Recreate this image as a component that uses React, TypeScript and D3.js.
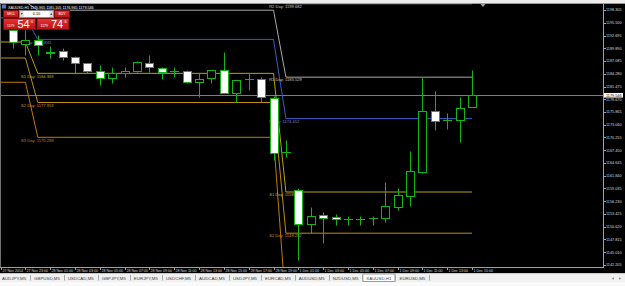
import React from 'react';
import * as d3 from 'd3';

const W = 625;
const H = 286;

// ---- Candle data (H1 bars, index 0 = 27 Nov 22:00) ----
const opens = [
  1193.905, 1190.825, 1191.705, 1188.955, 1189.285, 1187.965, 1186.645, 1184.885, 1183.345, 1184.445,
  1184.885, 1186.645, 1185.545, 1184.885, 1184.885, 1182.465, 1183.345, 1185.105, 1180.045, 1183.015,
  1183.125, 1178.945, 1167.065, 1158.705, 1151.225, 1153.205, 1152.765, 1152.325, 1152.325, 1152.545,
  1152.545, 1154.965, 1157.385, 1162.665, 1176.085, 1174.105, 1174.105, 1176.965,
];
const highs = [
  1194.345, 1193.905, 1192.805, 1190.385, 1189.945, 1188.185, 1186.710, 1186.205, 1185.765, 1185.765,
  1187.085, 1188.405, 1185.765, 1185.765, 1185.105, 1184.445, 1185.105, 1189.065, 1182.905, 1184.445,
  1183.565, 1179.385, 1169.705, 1159.145, 1154.965, 1153.865, 1153.425, 1152.985, 1152.985, 1152.985,
  1160.465, 1159.145, 1167.285, 1183.565, 1180.485, 1175.645, 1179.165, 1185.105,
];
const lows = [
  1189.945, 1188.405, 1188.405, 1187.745, 1187.305, 1184.445, 1184.445, 1181.805, 1182.245, 1183.565,
  1184.665, 1184.665, 1183.125, 1183.565, 1182.245, 1179.165, 1182.245, 1180.045, 1178.065, 1180.705,
  1178.065, 1165.305, 1165.965, 1143.305, 1149.245, 1147.045, 1151.005, 1151.005, 1151.005, 1151.005,
  1151.665, 1154.305, 1155.185, 1162.445, 1171.905, 1172.125, 1169.265, 1176.965,
];
const closes = [
  1191.265, 1191.705, 1190.605, 1189.175, 1187.965, 1186.645, 1184.885, 1183.345, 1184.445, 1184.995,
  1186.865, 1185.765, 1184.665, 1184.885, 1182.465, 1183.125, 1185.105, 1180.045, 1182.905, 1183.125,
  1179.165, 1166.845, 1167.065, 1151.225, 1152.985, 1152.545, 1152.325, 1152.325, 1152.325, 1152.545,
  1155.185, 1157.605, 1162.885, 1176.085, 1173.885, 1174.105, 1176.745, 1179.546,
];

// ---- Time axis ----
const timeLabelIdx = [-1, 1, 3, 5, 7, 9, 11, 13, 15, 17, 19, 21, 23, 25, 27, 29, 31, 33, 35, 37];
const timeLabels = [
  '27 Nov 2014', '27 Nov 23:00', '28 Nov 01:00', '28 Nov 03:00', '28 Nov 05:00', '28 Nov 07:00',
  '28 Nov 09:00', '28 Nov 11:00', '28 Nov 13:00', '28 Nov 15:00', '28 Nov 17:00', '28 Nov 19:00',
  '1 Dec 01:00', '1 Dec 03:00', '1 Dec 05:00', '1 Dec 07:00', '1 Dec 09:00', '1 Dec 11:00',
  '1 Dec 13:00', '1 Dec 15:00',
];

// ---- Price axis ----
const priceTicks = [
  1198.305, 1195.5, 1192.695, 1189.89, 1187.085, 1184.28, 1181.475, 1178.67, 1175.865, 1173.06,
  1170.255, 1167.45, 1164.645, 1161.84, 1159.035, 1156.23, 1153.425, 1150.62, 1147.815, 1145.01,
  1142.205,
];
const currentPrice = 1179.546;
const askPrice = 1179.746;

// ---- Daily pivots ----
const dayStart = [-3, 2, 22];
const dayEnd = [1, 21, 37];
const pivotNames = ['R2', 'R1', 'P', 'S1', 'S2', 'S3'];
const pivotR2 = [1205.455, 1205.729, 1199.682];
const pivotR1 = [1200.12, 1198.257, 1183.529];
const pivotP = [1196.6, 1191.841, 1174.412];
const pivotS1 = [1191.265, 1184.369, 1158.262];
const pivotS2 = [1187.745, 1177.953, 1149.202];
const pivotS3 = [1182.41, 1170.299, 1132.99];
const pivotColors = ['#a8a8a8', '#a8a8a8', '#3a5cc8', '#b4a214', '#c08c14', '#c0780c'];
const pivotTextColors = ['#c8c8c8', '#c8c8c8', '#6a88e0', '#c8b420', '#c89a20', '#c8841a'];

// ---- Tabs ----
const tabNames = [
  'AUDJPY,M5', 'GBPUSD,M5', 'USDCAD,M5', 'GBPJPY,M5', 'EURJPY,M5', 'USDCHF,M5', 'AUDCAD,M5',
  'USDJPY,M5', 'EURCAD,M5', 'AUDUSD,M5', 'NZDUSD,M5', 'XAUUSD,H1', 'EURUSD,M5',
];
const activeTab = 'XAUUSD,H1';
const symbolTitle = 'XAUUSD,H1';

const FONT = '"Liberation Sans", Arial, sans-serif';

function measure(text: string, size: number) {
  const c = document.createElement('canvas').getContext('2d');
  if (!c) return text.length * size * 0.55;
  c.font = `${size}px ${FONT}`;
  return c.measureText(text).width;
}

export default function App() {
  const x = d3.scaleLinear().domain([0, 37]).range([13, 472]);
  const y = d3.scaleLinear().domain([1142.205, 1198.305]).range([265, 10]);
  const green = '#14b414';
  const chartL = 1, chartR = 603, chartT = 3, chartB = 267;
  // one-click trading panel occupies this corner and hides what is under it
  const panel = { x0: 3, x1: 70, y0: 10, y1: 30 };

  const pivotSets = [pivotR2, pivotR1, pivotP, pivotS1, pivotS2, pivotS3];
  const line = d3.line<[number, number]>().x(d => d[0]).y(d => d[1]);

  const pivotPaths = pivotSets.map(vals => {
    const pts: [number, number][] = [];
    vals.forEach((v, d) => {
      pts.push([x(dayStart[d]), y(v)]);
      pts.push([x(dayEnd[d]), y(v)]);
    });
    return line(pts) || '';
  });

  const pivotLabels: { key: string; lx: number; ly: number; color: string; text: string }[] = [];
  pivotSets.forEach((vals, li) =>
    vals.forEach((v, d) => {
      const lx = x(dayStart[d] - 1.35);
      const ly = y(v) + 4.3;
      const underPanel = lx < panel.x1 && ly > panel.y0 && ly - 3.5 < panel.y1;
      if (lx >= chartL && ly - 3.5 >= chartT && ly <= chartB && !underPanel) {
        pivotLabels.push({
          key: `${li}-${d}`,
          lx,
          ly,
          color: pivotTextColors[li],
          text: `${pivotNames[li]} Day: ${v.toFixed(3)}`,
        });
      }
    })
  );

  // tab layout
  const tabFont = 4.4;
  let tx = 2;
  const tabs = tabNames.map(name => {
    const w = measure(name, tabFont);
    const t = { name, x: tx, w };
    tx += w + 8;
    return t;
  });

  const last = opens.length - 1;
  const titleText = `${symbolTitle}  ${opens[last].toFixed(3)} ${highs[last].toFixed(3)} ${lows[last].toFixed(3)} ${closes[last].toFixed(3)}`;

  const priceBox = (bx: number, price: number) => {
    const s = price.toFixed(3);
    const big = s.slice(5, 7);
    const small = s.slice(0, 4);
    const sup = s.slice(7, 8);
    return (
      <g>
        <rect x={bx + 0.5} y={18.5} width={32} height={11} fill="url(#redg)" stroke="#7a0c0c" />
        <text x={bx + 4} y={27} fontSize={3.4} fill="#fff" fontFamily={FONT}>{small}</text>
        <text x={bx + 14.5} y={28} fontSize={11} fill="#fff" fontFamily={FONT}>{big}</text>
        <text x={bx + 28} y={22.5} fontSize={3.8} fill="#fff" fontFamily={FONT}>{sup}</text>
      </g>
    );
  };

  return (
    <svg width={W} height={H} style={{ position: 'fixed', left: 0, top: 0 }} xmlns="http://www.w3.org/2000/svg">
      <defs>
        <clipPath id="plot">
          <rect x={chartL} y={chartT} width={chartR - chartL} height={chartB - chartT} />
        </clipPath>
        <linearGradient id="redg" x1="0" y1="0" x2="0" y2="1">
          <stop offset="0" stopColor="#e43434" />
          <stop offset="1" stopColor="#b81212" />
        </linearGradient>
      </defs>
      {/* window chrome */}
      <rect x={0} y={0} width={W} height={H} fill="#000" />
      <rect x={0} y={0} width={W} height={3} fill="#ececec" />
      <line x1={0} x2={W} y1={3.5} y2={3.5} stroke="#9a9a9a" />
      <line x1={0.5} x2={0.5} y1={3} y2={chartB} stroke="#707070" />

      <g clipPath="url(#plot)">
        {/* current price line */}
        <line x1={chartL} x2={chartR} y1={Math.round(y(currentPrice)) + 0.5} y2={Math.round(y(currentPrice)) + 0.5} stroke="#7c7c7c" />
        {/* pivot lines */}
        {pivotPaths.map((p, i) => (
          <path key={i} d={p} fill="none" stroke={pivotColors[i]} strokeWidth={1} />
        ))}
        {/* pivot labels */}
        {pivotLabels.map(l => (
          <text key={l.key} x={l.lx} y={l.ly} fontSize={4.1} fill={l.color} fontFamily={FONT}>{l.text}</text>
        ))}
        {/* candles */}
        {opens.map((o, i) => {
          const c = closes[i];
          const cx = Math.round(x(i)) + 0.5;
          const hi = Math.round(y(highs[i])) + 0.5;
          const lo = Math.round(y(lows[i])) + 0.5;
          const top = Math.round(y(Math.max(o, c))) + 0.5;
          const bot = Math.round(y(Math.min(o, c))) + 0.5;
          const bull = c > o;
          const doji = bot - top < 1;
          return (
            <g key={i}>
              <line x1={cx} x2={cx} y1={hi} y2={lo} stroke={green} />
              {doji ? (
                <line x1={cx - 4.5} x2={cx + 4.5} y1={top} y2={top} stroke={green} />
              ) : (
                <rect x={cx - 4} y={top} width={8} height={bot - top} fill={bull ? '#000' : '#fff'} stroke={green} />
              )}
            </g>
          );
        })}
        {/* chart shift marker */}
        <path d="M480.5,4 L485.5,4 L483,7 Z" fill="#a0a0a0" />
      </g>

      {/* title */}
      <rect x={2} y={4.5} width={4} height={4} fill="#4a78c8" />
      <text x={8} y={8.6} fontSize={3.7} fill="#fff" fontFamily={FONT}>{titleText}</text>

      {/* one click trading panel */}
      <rect x={3.5} y={10.5} width={15} height={7} fill="url(#redg)" stroke="#7a0c0c" />
      <text x={11} y={15.3} fontSize={3.5} fill="#fff" textAnchor="middle" fontFamily={FONT}>SELL</text>
      <rect x={19.5} y={10.5} width={34} height={7} fill="#fff" stroke="#888" />
      <rect x={20} y={11} width={3.5} height={6} fill="#d8d8d8" />
      <rect x={49.5} y={11} width={3.5} height={6} fill="#d8d8d8" />
      <path d="M20.6,13.3 L22.9,13.3 L21.75,14.8 Z" fill="#222" />
      <path d="M50.1,14.8 L52.4,14.8 L51.25,13.3 Z" fill="#222" />
      <text x={36.5} y={15.4} fontSize={3.8} fill="#000" textAnchor="middle" fontFamily={FONT}>0.10</text>
      <rect x={54.5} y={10.5} width={15} height={7} fill="url(#redg)" stroke="#7a0c0c" />
      <text x={62} y={15.3} fontSize={3.5} fill="#fff" textAnchor="middle" fontFamily={FONT}>BUY</text>
      {priceBox(3, currentPrice)}
      {priceBox(36.5, askPrice)}

      {/* right price axis */}
      <line x1={chartR + 0.5} x2={chartR + 0.5} y1={3} y2={chartB + 1} stroke="#a0a0a0" />
      {priceTicks.map((p, i) => (
        <g key={i}>
          <line x1={chartR} x2={chartR + 3} y1={Math.round(y(p)) + 0.5} y2={Math.round(y(p)) + 0.5} stroke="#a0a0a0" />
          <text x={606} y={y(p) + 1.4} fontSize={3.8} fill="#d8d8d8" fontFamily={FONT}>{p.toFixed(3)}</text>
        </g>
      ))}
      <rect x={604} y={y(currentPrice) - 2.3} width={19} height={4.6} fill="#fff" />
      <text x={606} y={y(currentPrice) + 1.4} fontSize={3.8} fill="#000" fontFamily={FONT}>{currentPrice.toFixed(3)}</text>

      {/* bottom time axis */}
      <line x1={0} x2={chartR + 1} y1={chartB + 0.5} y2={chartB + 0.5} stroke="#a0a0a0" />
      {timeLabelIdx.map((ix, i) => {
        const px = Math.max(1.5, Math.round(x(ix)) + 0.5);
        return (
          <g key={i}>
            <line x1={px} x2={px} y1={chartB} y2={chartB + 3} stroke="#a0a0a0" />
            <text x={px + 1} y={271.8} fontSize={3.6} fill="#d8d8d8" fontFamily={FONT}>{timeLabels[i]}</text>
          </g>
        );
      })}

      {/* tabs bar */}
      <rect x={0} y={273} width={W} height={13} fill="#f0f0f0" />
      <line x1={0} x2={W} y1={273.5} y2={273.5} stroke="#c8c8c8" />
      {tabs.map(t => (
        <g key={t.name}>
          {t.name === activeTab && (
            <rect x={t.x - 3.5} y={274} width={t.w + 7} height={7.5} fill="#fff" stroke="#9a9a9a" />
          )}
          <text x={t.x} y={279.6} fontSize={tabFont} fill="#404040" fontFamily={FONT}>{t.name}</text>
          <line x1={Math.round(t.x + t.w + 4) + 0.5} x2={Math.round(t.x + t.w + 4) + 0.5} y1={275} y2={280.5} stroke="#a8a8a8" />
        </g>
      ))}
      <path d="M614,277.3 L611.5,278.5 L614,279.7 Z" fill="#909090" />
      <path d="M619,277.3 L621.5,278.5 L619,279.7 Z" fill="#909090" />
      <rect x={0} y={282} width={W} height={4} fill="#fafafa" />
    </svg>
  );
}
